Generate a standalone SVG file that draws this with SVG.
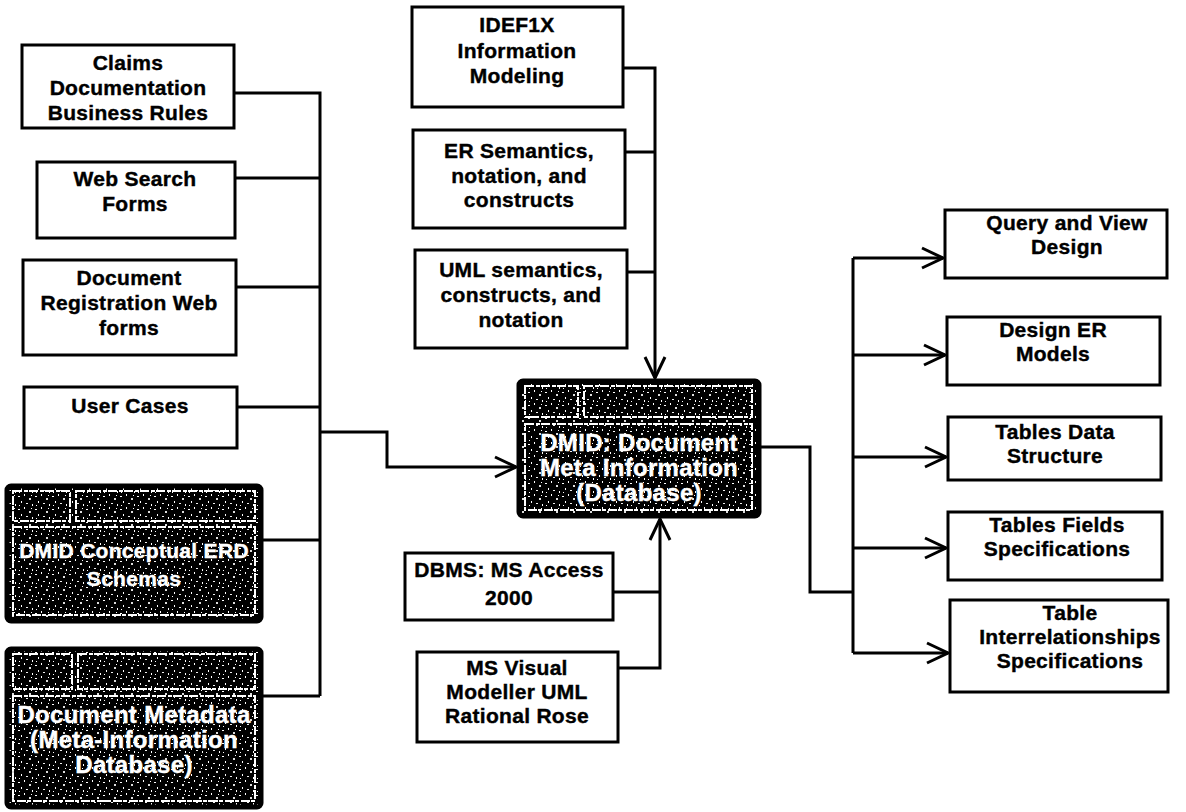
<svg xmlns="http://www.w3.org/2000/svg" width="1186" height="812" viewBox="0 0 1186 812">
<style>
.box{fill:#fff;stroke:#000;stroke-width:3}
.t{font-family:"Liberation Sans",Arial,sans-serif;font-weight:bold;font-size:21px;letter-spacing:0.3px;text-anchor:middle;dominant-baseline:central;fill:#000;stroke:#000;stroke-width:0.4}
.w{fill:#fff;stroke:#fff}
.big{font-size:24px}
.dark{fill:url(#speck);stroke:#000;stroke-width:5}
.cell{fill:none;stroke:#fff;stroke-width:2;stroke-dasharray:9 2 4 1}
.c{fill:none;stroke:#000;stroke-width:3}
</style>
<defs>
<pattern id="speck" width="17" height="13" patternUnits="userSpaceOnUse">
<rect width="17" height="13" fill="#000"/>
<rect x="1" y="2" width="2" height="1" fill="#fff"/>
<rect x="7" y="0" width="1" height="2" fill="#fff"/>
<rect x="12" y="4" width="2" height="2" fill="#ddd"/>
<rect x="4" y="7" width="1" height="2" fill="#fff"/>
<rect x="9" y="9" width="2" height="1" fill="#eee"/>
<rect x="15" y="10" width="1" height="2" fill="#fff"/>
<rect x="2" y="11" width="1" height="1" fill="#fff"/>
<rect x="14" y="1" width="1" height="1" fill="#fff"/>
</pattern>
<marker id="arr" viewBox="0 0 24 24" refX="22" refY="12" markerWidth="24" markerHeight="24" markerUnits="userSpaceOnUse" orient="auto">
<path d="M1,2 L22,12 L1,22" fill="none" stroke="#000" stroke-width="3"/>
</marker>
</defs>
<rect width="1186" height="812" fill="#fff"/>

<g id="connectors">
<path class="c" d="M235,93 H320 V696 M236,178 H320 M236,287 H320 M237,407 H320 M262,540 H320 M262,696 H320"/>
<path class="c" d="M320,432 H387 V467 H516" marker-end="url(#arr)"/>
<path class="c" d="M623,68 H655 V378" marker-end="url(#arr)"/>
<path class="c" d="M625,152 H655 M627,272 H655"/>
<path class="c" d="M613,592 H660 M618,668 H660 V519" marker-end="url(#arr)"/>
<path class="c" d="M760,447 H810 V592 H853 M853,258 V653"/>
<path class="c" d="M853,258 H943" marker-end="url(#arr)"/>
<path class="c" d="M853,355 H945" marker-end="url(#arr)"/>
<path class="c" d="M853,457 H946" marker-end="url(#arr)"/>
<path class="c" d="M853,548 H946" marker-end="url(#arr)"/>
<path class="c" d="M853,653 H948" marker-end="url(#arr)"/>
</g>

<g id="claims"><rect class="box" x="22" y="45" width="212" height="83"/>
<text class="t" x="128" y="62">Claims</text><text class="t" x="128" y="87">Documentation</text><text class="t" x="128" y="112">Business Rules</text></g>

<g id="websearch"><rect class="box" x="37" y="162" width="198" height="76"/>
<text class="t" x="135" y="178">Web Search</text><text class="t" x="135" y="203">Forms</text></g>

<g id="docreg"><rect class="box" x="23" y="260" width="213" height="95"/>
<text class="t" x="129" y="277">Document</text><text class="t" x="129" y="302">Registration Web</text><text class="t" x="129" y="327">forms</text></g>

<g id="usercases"><rect class="box" x="24" y="387" width="213" height="61"/>
<text class="t" x="130" y="405">User Cases</text></g>

<g id="dmid-erd">
<rect class="dark" x="7" y="486" width="254" height="135" rx="4"/>
<rect class="cell" x="13" y="491" width="57" height="30"/>
<rect class="cell" x="76" y="491" width="179" height="30"/>
<rect class="cell" x="13" y="527" width="242" height="88"/>
<text class="t w" x="134" y="550" font-size="22">DMID Conceptual ERD</text><text class="t w" x="134" y="578" font-size="22">Schemas</text></g>

<g id="docmeta">
<rect class="dark" x="7" y="649" width="254" height="158" rx="4"/>
<rect class="cell" x="13" y="654" width="59" height="35"/>
<rect class="cell" x="78" y="654" width="177" height="35"/>
<rect class="cell" x="13" y="696" width="242" height="105"/>
<text class="t w big" x="134" y="714">Document Metadata</text><text class="t w big" x="134" y="739">(Meta-Information</text><text class="t w big" x="134" y="764">Database)</text></g>

<g id="idef1x"><rect class="box" x="412" y="7" width="211" height="100"/>
<text class="t" x="517" y="24">IDEF1X</text><text class="t" x="517" y="50">Information</text><text class="t" x="517" y="75">Modeling</text></g>

<g id="er"><rect class="box" x="413" y="130" width="212" height="98"/>
<text class="t" x="519" y="150">ER Semantics,</text><text class="t" x="519" y="175">notation, and</text><text class="t" x="519" y="199">constructs</text></g>

<g id="uml"><rect class="box" x="415" y="250" width="212" height="98"/>
<text class="t" x="521" y="269">UML semantics,</text><text class="t" x="521" y="294">constructs, and</text><text class="t" x="521" y="319">notation</text></g>

<g id="dmid">
<rect class="dark" x="519" y="381" width="240" height="135" rx="4"/>
<rect class="cell" x="525" y="386" width="53" height="31"/>
<rect class="cell" x="584" y="386" width="168" height="31"/>
<rect class="cell" x="525" y="424" width="227" height="86"/>
<text class="t w big" x="639" y="442">DMID: Document</text><text class="t w big" x="639" y="467">Meta Information</text><text class="t w big" x="639" y="492">(Database)</text></g>

<g id="dbms"><rect class="box" x="405" y="553" width="208" height="67"/>
<text class="t" x="509" y="569">DBMS: MS Access</text><text class="t" x="509" y="597">2000</text></g>

<g id="msvisual"><rect class="box" x="417" y="652" width="201" height="90"/>
<text class="t" x="517" y="667">MS Visual</text><text class="t" x="517" y="691">Modeller UML</text><text class="t" x="517" y="715">Rational Rose</text></g>

<g id="query"><rect class="box" x="945" y="210" width="222" height="68"/>
<text class="t" x="1067" y="222">Query and View</text><text class="t" x="1067" y="246">Design</text></g>

<g id="designer"><rect class="box" x="947" y="317" width="213" height="68"/>
<text class="t" x="1053" y="329">Design ER</text><text class="t" x="1053" y="353">Models</text></g>

<g id="tablesdata"><rect class="box" x="948" y="417" width="213" height="63"/>
<text class="t" x="1055" y="431">Tables Data</text><text class="t" x="1055" y="455">Structure</text></g>

<g id="tablesfields"><rect class="box" x="948" y="512" width="214" height="68"/>
<text class="t" x="1057" y="524">Tables Fields</text><text class="t" x="1057" y="548">Specifications</text></g>

<g id="interrel"><rect class="box" x="950" y="600" width="218" height="92"/>
<text class="t" x="1070" y="612">Table</text><text class="t" x="1070" y="636">Interrelationships</text><text class="t" x="1070" y="660">Specifications</text></g>
</svg>
